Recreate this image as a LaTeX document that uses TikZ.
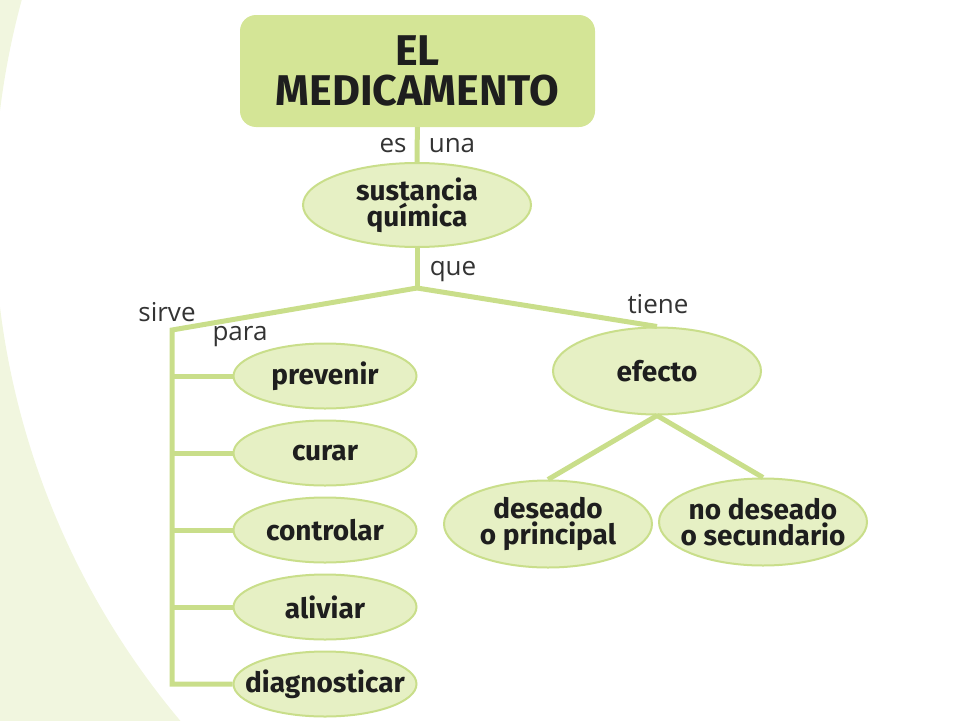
\documentclass[tikz,border=0pt]{standalone}
\usepackage{fontspec}
\usepackage{tikz}
\usetikzlibrary{shapes,positioning}
\newfontfamily\headfont{Fira Sans}
\newfontfamily\linkfont{Open Sans}
\definecolor{medbg}{RGB}{241,246,223}
\definecolor{medbox}{RGB}{212,229,150}
\definecolor{medfill}{RGB}{230,240,196}
\definecolor{medline}{RGB}{201,222,138}
\definecolor{medtext}{RGB}{30,30,30}

\begin{document}
\begin{tikzpicture}[
    x=1pt, y=-1pt,
    node distance=10pt,
    bubble/.style={ellipse, draw=medline, line width=2pt, fill=medfill, inner xsep=-20pt, inner ysep=-12pt, minimum width=183pt, minimum height=65pt, align=center, text=medtext, font=\headfont\bfseries\fontsize{28}{26}\selectfont},
    bigbubble/.style={bubble, minimum width=208pt, minimum height=87pt},
    link/.style={draw=medline, line width=5pt},
    word/.style={inner sep=0pt, anchor=base, text=black!80, font=\linkfont\fontsize{26}{28}\selectfont}
]
    % Background
    \useasboundingbox (0,0) rectangle (960,720);
    \begin{scope}
        \clip (0,0) rectangle (960,720);
        \fill[medbg, even odd rule] (-10,-10) rectangle (970,730) (790,209) circle[radius=796];
    \end{scope}

    % Nodes
    \node[fill=medbox, rounded corners=16pt, minimum width=355pt, minimum height=112pt, align=center, text=medtext, font=\headfont\bfseries\fontsize{43}{40}\selectfont] (title) at (417.5,71) {EL\\MEDICAMENTO};
    \node[bubble, minimum width=228pt, minimum height=84pt] (sust) at (417,205) {sustancia\\química};
    \node[bubble] (prev) at (325,376) {prevenir};
    \node[bubble, below=of prev] (curar) {curar};
    \node[bubble, below=of curar] (contr) {controlar};
    \node[bubble, below=of contr] (aliv) {aliviar};
    \node[bubble, below=of aliv] (diag) {diagnosticar};
    \node[bigbubble] (efecto) at (657,371) {efecto};
    \node[bigbubble] (deseado) at (548,524) {deseado\\o principal};
    \node[bigbubble] (nodeseado) at (763,522) {no deseado\\o secundario};

    % Link words
    \node[word] (es) at (393,152) {es};
    \node[word] (una) at (452,152) {una};
    \node[word] (que) at (453,275) {que};
    \node[word] (sirve) at (167,321) {sirve};
    \node[word] (para) at (240,340) {para};
    \node[word] (tiene) at (658,313) {tiene};

    % Connectors
    \coordinate (hub) at (417,288);
    \coordinate (corner) at (172,330);
    \draw[link] (title) -- (sust);
    \draw[link] (sust) -- (hub);
    \draw[link] (hub) -- (efecto.north);
    \draw[link] (hub) -- (corner) -- (corner |- diag) -- (diag);
    \foreach \n in {prev,curar,contr,aliv}
        \draw[link] (corner |- \n) -- (\n);
    \draw[link] (efecto.south) -- (deseado.north);
    \draw[link] (efecto.south) -- (nodeseado.north);

\end{tikzpicture}
\end{document}
